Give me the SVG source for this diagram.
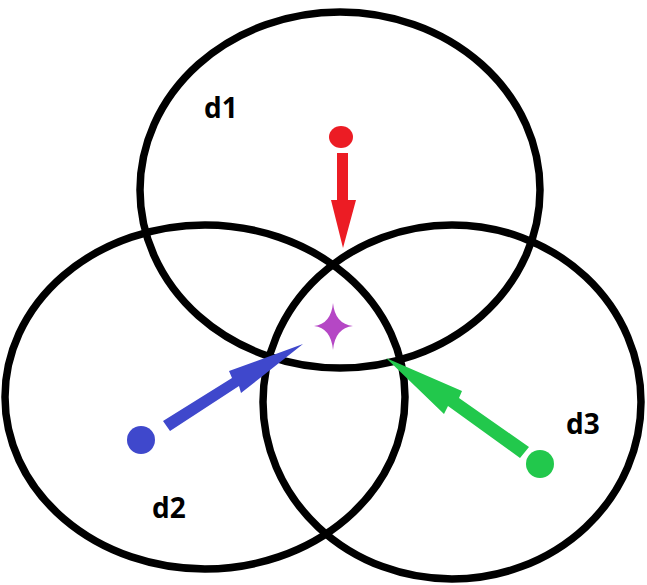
<svg xmlns="http://www.w3.org/2000/svg" width="647" height="585" viewBox="0 0 647 585">
<style>
.c{fill:none;stroke:#000;stroke-width:7.5}
.t{font-family:"Open Sans","Liberation Sans",sans-serif;font-weight:bold;font-size:28px;fill:#000}
</style>
<rect width="647" height="585" fill="#fff"/>
<g id="circle-d1"><ellipse class="c" cx="340" cy="190" rx="200" ry="178"/></g>
<g id="circle-d2"><ellipse class="c" cx="205" cy="397" rx="200" ry="172"/></g>
<g id="circle-d3"><ellipse class="c" cx="452" cy="402" rx="189" ry="177"/></g>
<g id="connectors">
<g id="arrow-red" fill="#ec1c24">
<ellipse cx="341" cy="137" rx="12" ry="11"/>
<polygon points="337,153 348,153 348,200 356,200 343,248 331,200 337,200"/>
</g>
<g id="arrow-blue" fill="#3f48cc">
<circle cx="141" cy="440" r="14"/>
<polygon points="163,421 232,378 229,371 303,344 241,393 239,386 170,431"/>
</g>
<g id="arrow-green" fill="#22c84c">
<circle cx="540" cy="464" r="14"/>
<polygon points="529,447 459,398 462,391 386,358 444,414 448,406 520,458"/>
</g>
</g>
<g id="target"><path d="M333,303 Q335,324 353,326 Q335,328 333,350 Q331,328 314,326 Q331,324 333,303 Z" fill="#b547c5"/></g>
<g id="label-d1"><text class="t" x="204" y="118">d1</text></g>
<g id="label-d2"><text class="t" x="152" y="518">d2</text></g>
<g id="label-d3"><text class="t" x="566" y="434">d3</text></g>
</svg>
